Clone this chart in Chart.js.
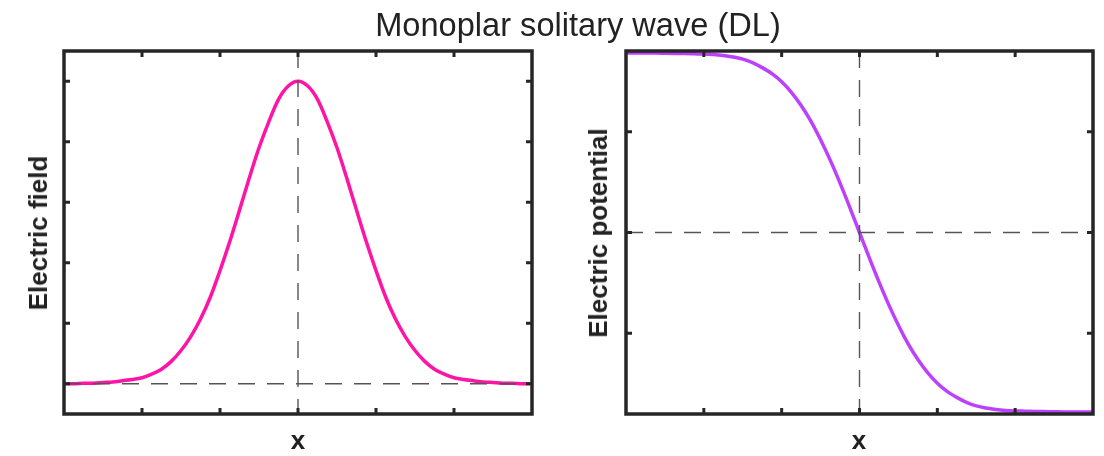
<!DOCTYPE html>
<html>
<head>
<meta charset="utf-8">
<script src="https://cdn.jsdelivr.net/npm/chart.js@4/dist/chart.umd.min.js"></script>
<style>
  body { margin: 0; background: #fff; }
  #wrap { position: relative; width: 1104px; height: 456px; overflow: hidden; font-family: "Liberation Sans", Arial, sans-serif; color: #222; }
  canvas { position: absolute; top: 0; }
  .lbl { position: absolute; white-space: nowrap; line-height: 1; }
  .title { font-size: 32.6px; transform: translateX(-50%); }
  .ylab { font-size: 26px; font-weight: bold; transform: translate(-50%, -50%) rotate(-90deg); }
  .xlab { font-size: 26px; font-weight: bold; transform: translate(-50%, -50%); }
</style>
</head>
<body>
<div id="wrap">
  <canvas id="field" width="552" height="456" style="left:0"></canvas>
  <canvas id="potential" width="552" height="456" style="left:552px"></canvas>
  <div class="lbl title" style="left:578px; top:9px">Monoplar solitary wave (DL)</div>
  <div class="lbl ylab" style="left:38px; top:233px">Electric field</div>
  <div class="lbl ylab" style="left:598px; top:233px">Electric potential</div>
  <div class="lbl xlab" style="left:298px; top:440px">x</div>
  <div class="lbl xlab" style="left:859px; top:440px">x</div>
</div>
<script>
const xValues = [-3, -2.875, -2.75, -2.625, -2.5, -2.375, -2.25, -2.125, -2, -1.875, -1.75, -1.625,
                 -1.5, -1.375, -1.25, -1.125, -1, -0.875, -0.75, -0.625, -0.5, -0.375, -0.25, -0.125, 0,
                 0.125, 0.25, 0.375, 0.5, 0.625, 0.75, 0.875, 1, 1.125, 1.25, 1.375, 1.5,
                 1.625, 1.75, 1.875, 2, 2.125, 2.25, 2.375, 2.5, 2.625, 2.75, 2.875, 3];
const fieldValues = [0.0, 0.0, 0.01, 0.01, 0.02, 0.03, 0.05, 0.07, 0.10, 0.16, 0.24, 0.37,
                     0.55, 0.78, 1.07, 1.43, 1.87, 2.35, 2.87, 3.40, 3.90, 4.33, 4.70, 4.92, 5.00,
                     4.92, 4.70, 4.33, 3.90, 3.40, 2.87, 2.35, 1.87, 1.43, 1.07, 0.78, 0.55,
                     0.37, 0.24, 0.16, 0.10, 0.07, 0.05, 0.03, 0.02, 0.01, 0.01, 0.0, 0.0];
const potentialValues = [1.78, 1.78, 1.78, 1.78, 1.778, 1.776, 1.774, 1.772, 1.77, 1.765, 1.755, 1.74,
                         1.72, 1.685, 1.635, 1.575, 1.495, 1.39, 1.26, 1.105, 0.92, 0.715, 0.49, 0.25, 0,
                         -0.25, -0.49, -0.715, -0.92, -1.105, -1.26, -1.39, -1.495, -1.575, -1.635, -1.685, -1.72,
                         -1.74, -1.755, -1.765, -1.77, -1.772, -1.774, -1.776, -1.778, -1.78, -1.78, -1.78, -1.78];

const xTicks = [-2, -1, 0, 1, 2];
const fieldTicks = [0, 1, 2, 3, 4, 5];
const potentialTicks = [-1, 0, 1];

// box frame, inward ticks on all four sides and dashed zero lines
const framePlugin = {
  id: 'frame',
  afterDatasetsDraw(chart, args, opts) {
    const { ctx, chartArea: a, scales: { x, y } } = chart;
    ctx.save();
    ctx.strokeStyle = '#555';
    ctx.lineWidth = 1.4;
    ctx.setLineDash([17, 12]);
    const x0 = x.getPixelForValue(0);
    const y0 = y.getPixelForValue(0);
    ctx.beginPath();
    ctx.moveTo(a.left, y0); ctx.lineTo(a.right, y0);
    ctx.moveTo(x0, a.top); ctx.lineTo(x0, a.bottom);
    ctx.stroke();

    ctx.setLineDash([]);
    ctx.strokeStyle = '#262626';
    ctx.lineWidth = 3;
    ctx.beginPath();
    opts.xTicks.forEach(v => {
      const px = x.getPixelForValue(v);
      ctx.moveTo(px, a.bottom); ctx.lineTo(px, a.bottom - 6);
      ctx.moveTo(px, a.top); ctx.lineTo(px, a.top + 6);
    });
    opts.yTicks.forEach(v => {
      const py = y.getPixelForValue(v);
      ctx.moveTo(a.left, py); ctx.lineTo(a.left + 6, py);
      ctx.moveTo(a.right, py); ctx.lineTo(a.right - 6, py);
    });
    ctx.stroke();

    ctx.lineWidth = 3.5;
    ctx.strokeRect(a.left, a.top, a.width, a.height);
    ctx.restore();
  }
};

function makeChart(id, values, color, yMin, yMax, yTicks, padding) {
  return new Chart(document.getElementById(id), {
    type: 'line',
    data: {
      labels: xValues,
      datasets: [{
        data: xValues.map((x, i) => ({ x: x, y: values[i] })),
        borderColor: color,
        borderWidth: 3.5,
        pointRadius: 0,
        cubicInterpolationMode: 'monotone'
      }]
    },
    options: {
      responsive: false,
      animation: false,
      devicePixelRatio: 1,
      layout: { padding: padding },
      plugins: {
        legend: { display: false },
        tooltip: { enabled: false },
        frame: { xTicks: xTicks, yTicks: yTicks }
      },
      scales: {
        x: { type: 'linear', min: -3, max: 3, display: false },
        y: { min: yMin, max: yMax, display: false }
      }
    },
    plugins: [framePlugin]
  });
}

makeChart('field', fieldValues, '#ff14a6', -0.5, 5.5, fieldTicks,
  { left: 64, right: 20, top: 51, bottom: 42 });
makeChart('potential', potentialValues, '#be40ff', -1.8, 1.8, potentialTicks,
  { left: 74, right: 11, top: 51, bottom: 42 });
</script>
</body>
</html>
